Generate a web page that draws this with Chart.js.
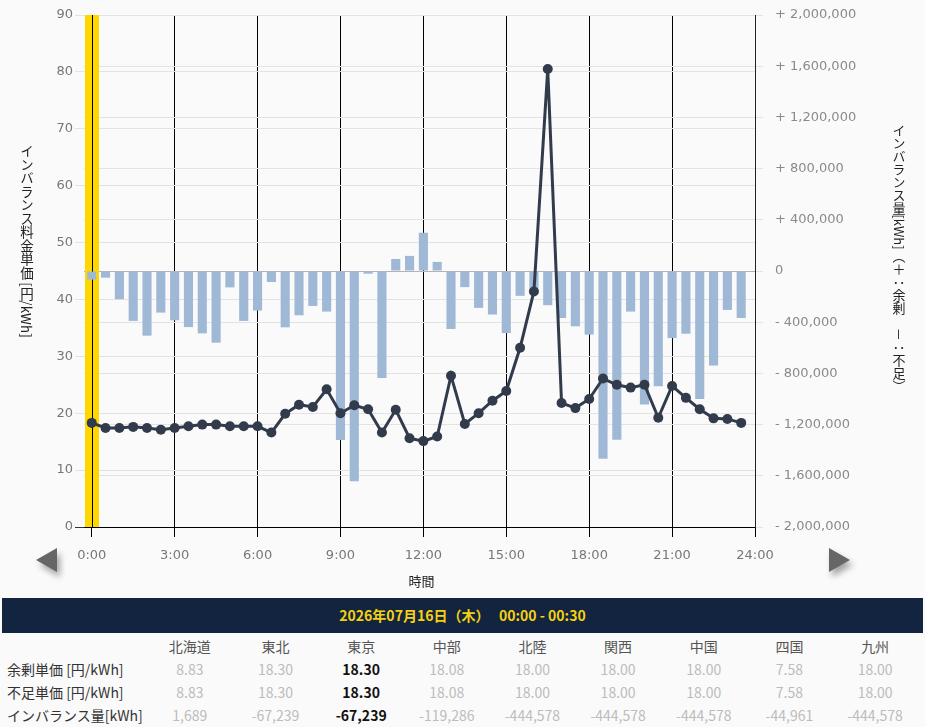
<!DOCTYPE html>
<html lang="ja">
<head>
<meta charset="utf-8">
<script src="https://cdn.jsdelivr.net/npm/chart.js@4.4.1/dist/chart.umd.min.js"></script>
<style>
  body { margin: 0; background: #fafafa; width: 925px; height: 727px; overflow: hidden;
         font-family: "Noto Sans CJK JP", "Noto Sans", sans-serif; }
  #wrap { position: absolute; left: 0; top: 0; width: 925px; height: 597px; }
  .vtitle { position: absolute; writing-mode: vertical-rl; font-size: 13px; color: #222;
            transform: translate(-50%, -50%); white-space: nowrap; }
  .arrow { position: absolute; width: 0; height: 0; border-top: 12px solid transparent;
           border-bottom: 12px solid transparent; filter: drop-shadow(3px 5px 3px rgba(0,0,0,0.35)); }
  #prev { left: 36px; top: 548px; border-right: 21px solid #666; }
  #next { left: 829px; top: 548px; border-left: 21px solid #666; }
  #head { position: absolute; left: 2px; top: 598px; width: 921px; height: 35px; background: #12243f;
          color: #f5d20f; font-weight: bold; font-size: 14px; line-height: 35px; text-align: center; }
  table { position: absolute; left: 0; top: 634px; border-collapse: collapse; table-layout: fixed;
          width: 918px; font-size: 14px; }
  th, td { padding: 0; height: 23px; text-align: center; font-weight: normal; white-space: nowrap; }
  th { color: #555; }
  td.lab { text-align: left; padding-left: 7px; color: #333; }
  td.v { color: #bcbcbc; }
  td.hl { color: #111; font-weight: bold; }
</style>
</head>
<body>
<div id="wrap"><canvas id="chart" width="925" height="597"></canvas></div>
<div class="vtitle" style="left:27px; top:241px; font-size:13.5px;">インバランス料金単価 [円/kWh]</div>
<div class="vtitle" style="left:899px; top:258px;">インバランス量[kWh]（＋：余剰　－：不足）</div>
<div class="arrow" id="prev"></div>
<div class="arrow" id="next"></div>
<div id="head">2026年07月16日（木）&nbsp;&nbsp;&nbsp;00:00 - 00:30</div>
<table id="tbl"></table>

<script>
// half-hour slots of the day
const times = [
  '0:00', '0:30', '1:00', '1:30', '2:00', '2:30', '3:00', '3:30', '4:00', '4:30', '5:00', '5:30',
  '6:00', '6:30', '7:00', '7:30', '8:00', '8:30', '9:00', '9:30', '10:00', '10:30', '11:00', '11:30',
  '12:00', '12:30', '13:00', '13:30', '14:00', '14:30', '15:00', '15:30', '16:00', '16:30', '17:00', '17:30',
  '18:00', '18:30', '19:00', '19:30', '20:00', '20:30', '21:00', '21:30', '22:00', '22:30', '23:00', '23:30'
];

// 東京 imbalance price [円/kWh]
const price = [
  18.3, 17.4, 17.4, 17.6, 17.4, 17.1, 17.4, 17.7, 18.0, 18.0, 17.7, 17.7,
  17.7, 16.6, 19.9, 21.5, 21.1, 24.2, 20.0, 21.4, 20.7, 16.6, 20.6, 15.6,
  15.1, 15.9, 26.6, 18.1, 20.0, 22.2, 23.9, 31.5, 41.4, 80.5, 21.8, 20.9,
  22.5, 26.1, 25.0, 24.5, 25.0, 19.2, 24.8, 22.7, 20.7, 19.1, 19.0, 18.3
];

// 東京 imbalance volume [kWh] (+ surplus / - shortage)
const volume = [
  -67239, -52000, -220000, -390000, -505000, -325000, -385000, -438000, -487000, -560000, -128000, -390000,
  -309000, -86000, -440000, -346000, -273000, -317000, -1320000, -1642000, -21000, -835000, 94000, 118000,
  299000, 71000, -453000, -126000, -288000, -340000, -485000, -194000, -160000, -267000, -367000, -432000,
  -497000, -1467000, -1318000, -317000, -1043000, -901000, -524000, -490000, -1000000, -739000, -304000, -367000
];

// table below the chart
const regions = ['北海道', '東北', '東京', '中部', '北陸', '関西', '中国', '四国', '九州'];
const surplusPrice = ['8.83', '18.30', '18.30', '18.08', '18.00', '18.00', '18.00', '7.58', '18.00'];
const shortagePrice = ['8.83', '18.30', '18.30', '18.08', '18.00', '18.00', '18.00', '7.58', '18.00'];
const imbalance = ['1,689', '-67,239', '-67,239', '-119,286', '-444,578', '-444,578', '-444,578', '-44,961', '-444,578'];
const selectedRegion = '東京';
const selectedSlot = '0:00';

const toHour = (t) => {
  const [h, m] = t.split(':').map(Number);
  return h + m / 60;
};

const tickFont = { family: '"DejaVu Sans", sans-serif', size: 13 };

// yellow band on the selected slot, with the slot line redrawn over it
const bandPlugin = {
  id: 'band',
  beforeDatasetsDraw(chart) {
    const { ctx, chartArea, scales } = chart;
    const h = toHour(selectedSlot);
    const x0 = Math.round(scales.x.getPixelForValue(h - 0.25));
    const x1 = Math.round(scales.x.getPixelForValue(h + 0.25));
    ctx.save();
    ctx.fillStyle = '#ffd700';
    ctx.fillRect(x0, chartArea.top, x1 - x0, chartArea.bottom - chartArea.top);
    ctx.fillStyle = '#000';
    ctx.fillRect(Math.round(scales.x.getPixelForValue(h)), chartArea.top, 1, chartArea.bottom - chartArea.top);
    ctx.restore();
  },
  afterDraw(chart) {
    const { ctx, chartArea } = chart;
    ctx.save();
    ctx.fillStyle = '#222';
    ctx.font = '13px "Noto Sans CJK JP"';
    ctx.textAlign = 'center';
    ctx.textBaseline = 'middle';
    ctx.fillText('時間', (chartArea.left + chartArea.right) / 2 + 2, 581);
    ctx.restore();
  }
};

const fitY = (w) => (s) => {
  s.width = w;
  s.paddingTop = 0;
  s.paddingBottom = 0;
};

new Chart(document.getElementById('chart'), {
  type: 'bar',
  data: {
    datasets: [
      {
        type: 'line',
        data: times.map((t, i) => ({ x: toHour(t), y: price[i] })),
        yAxisID: 'y',
        order: 1,
        borderColor: '#323b4c',
        backgroundColor: '#323b4c',
        borderWidth: 3,
        pointRadius: 5,
        pointBorderWidth: 0,
        tension: 0,
      },
      {
        type: 'bar',
        data: times.map((t, i) => ({ x: toHour(t), y: volume[i] })),
        yAxisID: 'y2',
        order: 2,
        backgroundColor: '#9fb8d6',
        borderWidth: 0,
        barPercentage: 0.66,
        categoryPercentage: 1,
      },
    ],
  },
  options: {
    responsive: false,
    animation: false,
    layout: { padding: { top: 15, left: 0, right: 0, bottom: 0 } },
    plugins: { legend: { display: false }, tooltip: { enabled: false } },
    scales: {
      x: {
        type: 'linear',
        min: -0.28,
        max: 24,
        offset: false,
        afterFit: (s) => { s.height = 70; },
        afterBuildTicks: (s) => { s.ticks = s.ticks.filter((t) => t.value >= 0 && t.value % 3 === 0); },
        grid: { color: '#000', tickColor: '#000', tickLength: 10, offset: false },
        border: { color: '#000' },
        ticks: {
          stepSize: 3,
          includeBounds: false,
          padding: 11,
          color: '#777',
          font: tickFont,
          maxRotation: 0,
          callback: (v) => v + ':00',
        },
      },
      y: {
        position: 'left',
        min: 0,
        max: 90,
        afterFit: fitY(84),
        grid: {
          color: '#e3e3e3',
          tickLength: 9,
          tickColor: (c) => (c.tick.value === 0 ? '#333' : '#e3e3e3'),
        },
        border: { display: false },
        ticks: { stepSize: 10, padding: 2, color: '#777', font: tickFont },
      },
      y2: {
        position: 'right',
        min: -2000000,
        max: 2000000,
        afterFit: fitY(170),
        grid: {
          color: (c) => (c.tick.value === 0 ? '#b3b3b3' : '#e3e3e3'),
          tickLength: 8,
          tickColor: '#e3e3e3',
        },
        border: { color: '#222' },
        ticks: {
          stepSize: 400000,
          padding: 12,
          color: '#8a8a8a',
          font: tickFont,
          callback: (v) => {
            if (v === 0) return '0';
            const s = Math.abs(v).toLocaleString('en-US');
            return (v > 0 ? '+ ' : '- ') + s;
          },
        },
      },
    },
  },
  plugins: [bandPlugin],
});

// table
const tbl = document.getElementById('tbl');
const sel = regions.indexOf(selectedRegion);
let html = '<colgroup><col style="width:147px">' + regions.map(() => '<col>').join('') + '</colgroup>';
html += '<tr><td class="lab"></td>' + regions.map((r) => '<th>' + r + '</th>').join('') + '</tr>';
const rows = [
  ['余剰単価 [円/kWh]', surplusPrice],
  ['不足単価 [円/kWh]', shortagePrice],
  ['インバランス量[kWh]', imbalance],
];
rows.forEach(([label, vals]) => {
  html += '<tr><td class="lab">' + label + '</td>' +
    vals.map((v, i) => '<td class="' + (i === sel ? 'hl' : 'v') + '">' + v + '</td>').join('') + '</tr>';
});
tbl.innerHTML = html;
</script>
</body>
</html>
